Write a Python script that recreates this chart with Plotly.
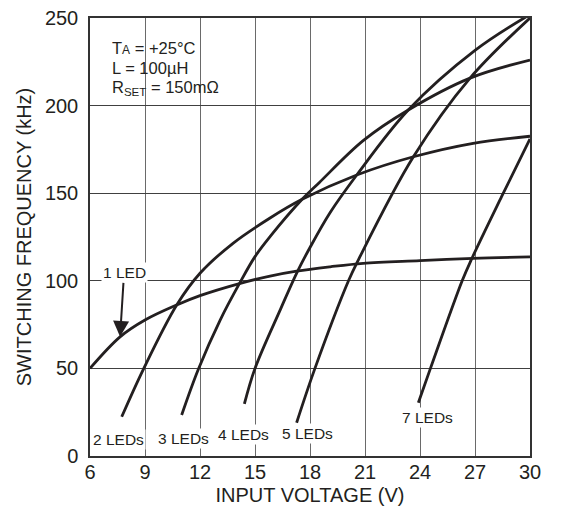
import plotly.graph_objects as go

# ---- data (input voltage V, switching frequency kHz) ----
led1_v = [6.0, 7.64, 9.0, 10.73, 12.0, 14.15, 15.82, 17.27, 19.1, 20.9, 24.0, 26.9, 30.0]
led1_f = [50.0, 68.0, 77.6, 86.2, 91.5, 98.4, 102.7, 105.5, 108.0, 110.0, 111.5, 112.8, 113.6]

led2_v = [7.73, 8.91, 10.73, 12.0, 13.8, 15.8, 17.57, 20.55, 23.64, 26.9, 30.0]
led2_f = [22.4, 49.5, 86.2, 104.3, 121.4, 135.7, 146.5, 160.4, 170.8, 178.5, 182.5]

led3_v = [11.0, 11.91, 13.1, 14.15, 15.0, 15.82, 17.57, 18.5, 20.9, 23.36, 26.73, 30.0]
led3_f = [23.4, 49.5, 77.6, 98.4, 113.8, 125.2, 146.5, 156.0, 180.0, 197.5, 215.7, 226.0]

led4_v = [14.42, 15.0, 16.4, 17.3, 18.0, 19.1, 20.55, 23.36, 27.0, 30.0]
led4_f = [29.7, 50.0, 84.0, 105.0, 119.0, 139.0, 160.4, 197.5, 231.5, 252.0]

led5_v = [17.27, 18.27, 20.1, 20.64, 23.64, 26.73, 30.0]
led5_f = [19.0, 50.0, 100.0, 112.0, 170.8, 215.7, 250.0]

led7_v = [23.91, 24.57, 26.3, 26.82, 28.45, 30.0]
led7_f = [30.4, 50.0, 100.0, 112.5, 148.0, 181.0]

series_labels = ["1 LED", "2 LEDs", "3 LEDs", "4 LEDs", "5 LEDs", "7 LEDs"]

x_ticks = [6, 9, 12, 15, 18, 21, 24, 27, 30]
y_ticks = [0, 50, 100, 150, 200, 250]

x_title = "INPUT VOLTAGE (V)"
y_title = "SWITCHING FREQUENCY (kHz)"
cond_lines = [
    "T<span style='font-size:12px'>A</span> = +25°C",
    "L = 100µH",
    "R<sub>SET</sub> = 150mΩ",
]

FONT = "Liberation Sans, Arial, Helvetica, sans-serif"
INK = "#231f20"

fig = go.Figure()
all_series = [(led1_v, led1_f), (led2_v, led2_f), (led3_v, led3_f),
              (led4_v, led4_f), (led5_v, led5_f), (led7_v, led7_f)]
for (xs, ys), name in zip(all_series, series_labels):
    fig.add_trace(go.Scatter(
        x=xs, y=ys, mode="lines", name=name,
        line=dict(color=INK, width=2.8, shape="spline", smoothing=1.0),
        hoverinfo="skip", showlegend=False,
    ))

# curve labels (text positions in data units)
label_pos = {
    "2 LEDs": (7.55, 9.5),
    "3 LEDs": (11.09, 10.0),
    "4 LEDs": (14.35, 12.0),
    "5 LEDs": (17.86, 13.0),
    "7 LEDs": (24.4, 21.9),
}
for name, (lx, ly) in label_pos.items():
    fig.add_annotation(x=lx, y=ly, text=name, showarrow=False,
                       font=dict(family=FONT, size=15.5, color=INK),
                       bgcolor="white", borderpad=1)

# "1 LED" label with arrow pointing at the curve
fig.add_annotation(x=led1_v[1], y=led1_f[1], text=series_labels[0],
                   showarrow=True, ax=4, ay=-64, arrowhead=2, arrowsize=1.6,
                   arrowwidth=2, arrowcolor=INK, standoff=0,
                   font=dict(family=FONT, size=15.5, color=INK),
                   bgcolor="white", borderpad=1)

# conditions box text
for i, t in enumerate(cond_lines):
    fig.add_annotation(xref="paper", yref="paper", x=0.045, y=0.932 - i * 0.046,
                       xanchor="left", yanchor="middle", text=t, showarrow=False,
                       font=dict(family=FONT, size=16.5, color=INK))

fig.update_xaxes(
    range=[6, 30], tickvals=x_ticks, ticktext=[str(v) for v in x_ticks],
    showgrid=True, gridcolor="#6a6a6a", gridwidth=1.3,
    showline=True, linecolor="#333333", linewidth=1.5, mirror=True,
    zeroline=False, ticks="", ticklabelstandoff=-3, ticklabeloverflow="allow",
    tickfont=dict(family=FONT, size=20, color=INK),
    title=dict(text=x_title, font=dict(family=FONT, size=20, color=INK), standoff=6),
    automargin=False,
)
fig.update_yaxes(
    range=[0, 250], tickvals=y_ticks, ticktext=[str(v) for v in y_ticks],
    showgrid=True, gridcolor="#404040", gridwidth=1.3,
    showline=True, linecolor="#333333", linewidth=1.5, mirror=True,
    zeroline=False, ticks="", ticklabelstandoff=6, ticklabeloverflow="allow",
    tickfont=dict(family=FONT, size=20, color=INK),
    title=dict(text=y_title, font=dict(family=FONT, size=20, color=INK), standoff=8),
    automargin=False,
)
# the page body has an 8px margin, so the figure is sized/offset to fit the window
fig.update_layout(
    width=553, height=506,
    margin=dict(l=82, r=31, t=10, b=58),
    paper_bgcolor="white", plot_bgcolor="white",
    showlegend=False,
)
fig.write_html("out.html")
